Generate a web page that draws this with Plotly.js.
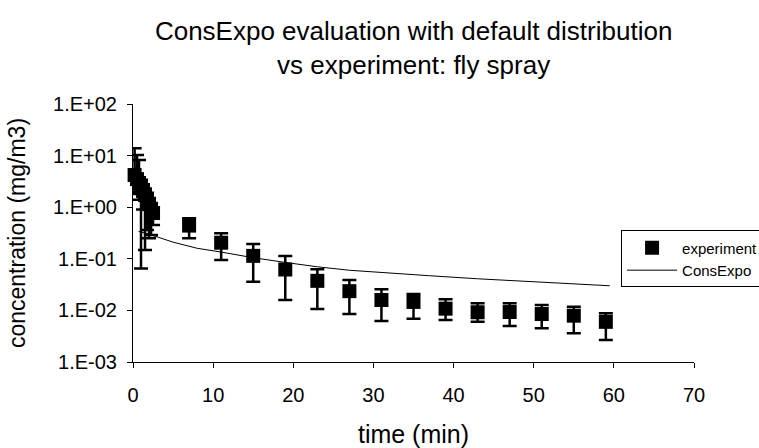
<!DOCTYPE html>
<html>
<head>
<meta charset="utf-8">
<script src="https://cdn.plot.ly/plotly-3.0.1.min.js"></script>
<style>
  html, body { margin: 0; padding: 0; background: #fff; }
  #plot { width: 759px; height: 448px; }
</style>
</head>
<body>
<div id="plot"></div>
<script>
// measured concentrations (mg/m3) with upper / lower bounds of the error bars
const expTime  = [0.2, 0.5, 0.75, 1.0, 1.25, 1.5, 1.75, 2.0, 2.25, 2.5, 7, 11, 15, 19, 23, 27, 31, 35, 39, 43, 47, 51, 55, 59];
const expConc  = [4.2, 3.5, 2.95, 2.46, 2.06, 1.72, 1.44, 1.15, 0.92, 0.77, 0.44, 0.205, 0.114, 0.062, 0.0374, 0.0236, 0.0159, 0.0146, 0.0108, 0.0092, 0.0093, 0.0085, 0.0079, 0.0060];
const expUpper = [13.9, 10.3, 8.2, 3.4, 2.8, 2.3, 1.9, 1.5, 1.2, 1.0, 0.61, 0.312, 0.194, 0.113, 0.0624, 0.0388, 0.0257, 0.0208, 0.0164, 0.0137, 0.0137, 0.0127, 0.0118, 0.0088];
const expLower = [2.0, 1.8, 1.4, 0.065, 0.9, 0.148, 0.36, 0.25, 0.29, 0.45, 0.249, 0.095, 0.036, 0.0159, 0.0106, 0.0085, 0.0062, 0.0069, 0.0065, 0.0060, 0.0050, 0.0045, 0.0036, 0.00267];

// ConsExpo model curve
const modelTime = [0.7, 2, 5, 8, 11, 15, 19, 23, 27, 31, 37, 43, 48, 54, 59.5];
const modelConc = [0.34, 0.30, 0.21, 0.16, 0.135, 0.105, 0.085, 0.07, 0.06, 0.054, 0.047, 0.041, 0.037, 0.033, 0.030];

const xTicks = [0, 10, 20, 30, 40, 50, 60, 70];
const yTicks = [0.001, 0.01, 0.1, 1, 10, 100];
const yTickText = ["1.E-03", "1.E-02", "1.E-01", "1.E+00", "1.E+01", "1.E+02"];

const font = "Liberation Sans, Arial, sans-serif";

const experiment = {
    type: "scatter",
    mode: "markers",
    name: "experiment",
    x: expTime,
    y: expConc,
    cliponaxis: false,
    marker: {symbol: "square", size: 14, color: "#000"},
    error_y: {
        type: "data",
        symmetric: false,
        array: expUpper.map((u, i) => u - expConc[i]),
        arrayminus: expLower.map((l, i) => expConc[i] - l),
        color: "#000",
        thickness: 2.5,
        width: 7
    }
};

const consExpo = {
    type: "scatter",
    mode: "lines",
    name: "ConsExpo",
    x: modelTime,
    y: modelConc,
    line: {color: "#000", width: 1}
};

Plotly.newPlot("plot", [experiment, consExpo], {
    width: 759,
    height: 448,
    margin: {l: 133, r: 65, t: 104, b: 86, autoexpand: false},
    paper_bgcolor: "#fff",
    plot_bgcolor: "#fff",
    font: {family: font, color: "#000", size: 20},
    title: {
        text: "ConsExpo evaluation with default distribution<br>vs experiment: fly spray",
        font: {family: font, size: 26, color: "#000"},
        x: 0.545, xanchor: "center",
        y: 0.91, yanchor: "top"
    },
    xaxis: {
        range: [0, 70],
        tickvals: xTicks,
        ticks: "outside", ticklen: 5, tickcolor: "#000",
        ticklabelstandoff: 10,
        showline: true, linecolor: "#000", linewidth: 1,
        showgrid: false, zeroline: false,
        title: {text: "time (min)", font: {family: font, size: 25}, standoff: 20}
    },
    yaxis: {
        type: "log",
        range: [-3, 2],
        tickvals: yTicks,
        ticktext: yTickText,
        ticks: "outside", ticklen: 5, tickcolor: "#000",
        ticklabelstandoff: 6,
        showline: true, linecolor: "#000", linewidth: 1,
        showgrid: false, zeroline: false,
        title: {text: "concentration (mg/m3)", font: {family: font, size: 23}, standoff: 20}
    },
    showlegend: true,
    legend: {
        x: 0.87, xanchor: "left",
        y: 0.51, yanchor: "top",
        bgcolor: "#fff",
        bordercolor: "#000", borderwidth: 1,
        font: {family: font, size: 15, color: "#000"},
        itemwidth: 50
    }
}, {staticPlot: true});
</script>
</body>
</html>
